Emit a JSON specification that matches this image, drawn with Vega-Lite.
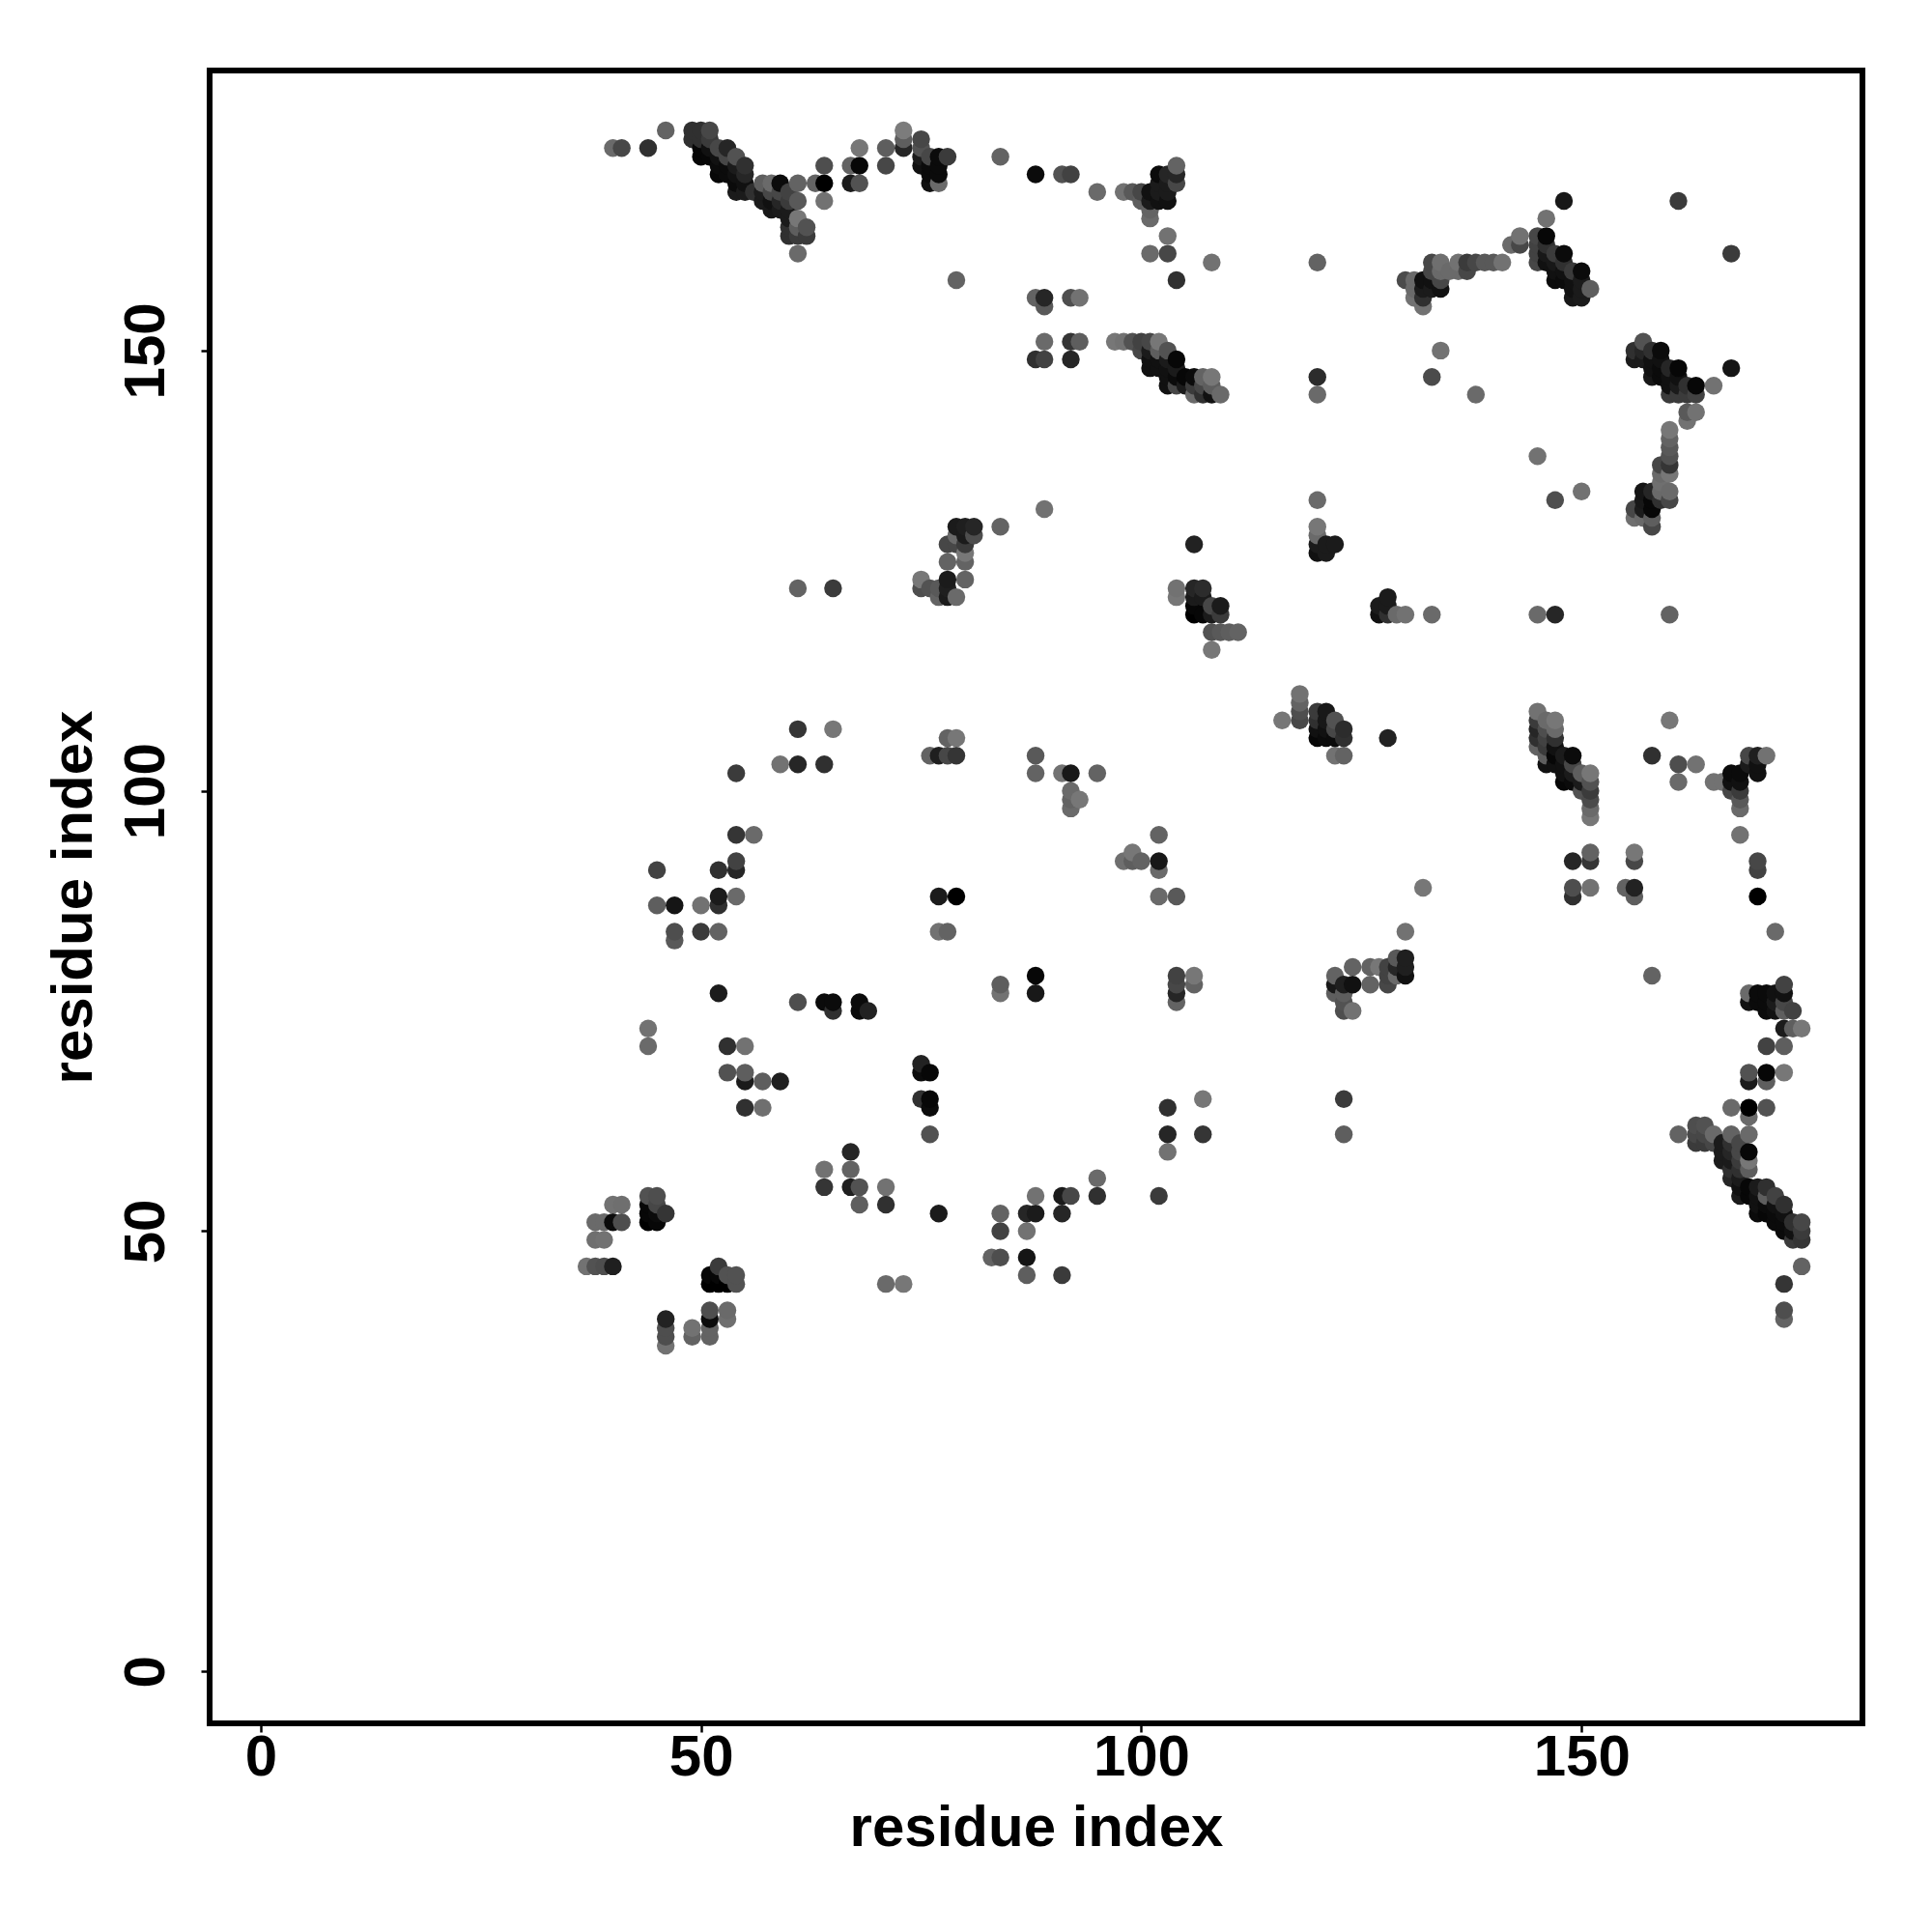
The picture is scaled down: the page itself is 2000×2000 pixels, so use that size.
{"$schema":"https://vega.github.io/schema/vega-lite/v6.json","autosize":"none","padding":{"left":217,"top":73,"right":72,"bottom":216},"width":1711,"height":1711,"background":"white","config":{"view":{"stroke":"black","strokeWidth":6,"fill":"white"}},"data":{"values":[
{"i":37,"j":46,"p":0.52},{"i":38,"j":46,"p":0.65},{"i":38,"j":49,"p":0.53},{"i":38,"j":51,"p":0.55},{"i":39,"j":46,"p":0.67},{"i":39,"j":49,"p":0.52},{"i":39,"j":51,"p":0.55},{"i":40,"j":46,"p":0.88},{"i":40,"j":51,"p":0.97},{"i":40,"j":53,"p":0.52},{"i":40,"j":173,"p":0.55},{"i":41,"j":51,"p":0.67},{"i":41,"j":53,"p":0.53},{"i":41,"j":173,"p":0.7},
{"i":44,"j":51,"p":1},{"i":44,"j":52,"p":0.98},{"i":44,"j":53,"p":0.98},{"i":44,"j":54,"p":0.65},{"i":44,"j":71,"p":0.55},{"i":44,"j":73,"p":0.52},{"i":44,"j":173,"p":0.8},{"i":45,"j":51,"p":0.98},{"i":45,"j":52,"p":0.97},{"i":45,"j":53,"p":0.7},{"i":45,"j":54,"p":0.67},{"i":45,"j":87,"p":0.6},{"i":45,"j":91,"p":0.72},{"i":46,"j":37,"p":0.52},{"i":46,"j":38,"p":0.67},{"i":46,"j":39,"p":0.67},{"i":46,"j":40,"p":0.87},{"i":46,"j":52,"p":0.78},{"i":46,"j":175,"p":0.58},{"i":47,"j":83,"p":0.62},{"i":47,"j":84,"p":0.67},{"i":47,"j":87,"p":0.93},
{"i":49,"j":38,"p":0.58},{"i":49,"j":39,"p":0.52},{"i":49,"j":174,"p":0.8},{"i":49,"j":175,"p":0.8},{"i":50,"j":84,"p":0.75},{"i":50,"j":87,"p":0.52},{"i":50,"j":172,"p":0.98},{"i":50,"j":173,"p":0.98},{"i":50,"j":174,"p":0.8},{"i":50,"j":175,"p":0.8},{"i":51,"j":38,"p":0.58},{"i":51,"j":39,"p":0.58},{"i":51,"j":40,"p":0.97},{"i":51,"j":41,"p":0.67},{"i":51,"j":44,"p":1},{"i":51,"j":45,"p":0.98},{"i":51,"j":172,"p":0.98},{"i":51,"j":173,"p":0.95},{"i":51,"j":174,"p":0.75},{"i":51,"j":175,"p":0.7},
{"i":52,"j":44,"p":1},{"i":52,"j":45,"p":0.98},{"i":52,"j":46,"p":0.75},{"i":52,"j":77,"p":0.9},{"i":52,"j":84,"p":0.58},{"i":52,"j":87,"p":0.8},{"i":52,"j":88,"p":0.9},{"i":52,"j":91,"p":0.8},{"i":52,"j":170,"p":0.98},{"i":52,"j":171,"p":0.97},{"i":52,"j":172,"p":0.95},{"i":52,"j":173,"p":0.7},{"i":53,"j":40,"p":0.53},{"i":53,"j":41,"p":0.55},{"i":53,"j":44,"p":1},{"i":53,"j":45,"p":0.65},{"i":53,"j":68,"p":0.65},{"i":53,"j":71,"p":0.8},{"i":53,"j":170,"p":0.97},{"i":53,"j":171,"p":0.97},{"i":53,"j":172,"p":0.7},{"i":53,"j":173,"p":0.85},
{"i":54,"j":44,"p":0.65},{"i":54,"j":45,"p":0.65},{"i":54,"j":88,"p":0.55},{"i":54,"j":91,"p":0.85},{"i":54,"j":92,"p":0.72},{"i":54,"j":95,"p":0.78},{"i":54,"j":102,"p":0.75},{"i":54,"j":168,"p":0.9},{"i":54,"j":169,"p":0.97},{"i":54,"j":170,"p":0.95},{"i":54,"j":171,"p":0.9},{"i":54,"j":172,"p":0.65},{"i":55,"j":64,"p":0.8},{"i":55,"j":67,"p":0.9},{"i":55,"j":68,"p":0.6},{"i":55,"j":71,"p":0.52},{"i":55,"j":168,"p":0.9},{"i":55,"j":169,"p":0.95},{"i":55,"j":170,"p":0.85},{"i":55,"j":171,"p":0.8},{"i":56,"j":95,"p":0.55},{"i":56,"j":168,"p":0.8},
{"i":57,"j":64,"p":0.53},{"i":57,"j":67,"p":0.6},{"i":57,"j":167,"p":0.9},{"i":57,"j":168,"p":0.9},{"i":57,"j":169,"p":0.6},{"i":58,"j":166,"p":0.92},{"i":58,"j":167,"p":0.95},{"i":58,"j":168,"p":0.7},{"i":58,"j":169,"p":0.55},{"i":59,"j":67,"p":0.88},{"i":59,"j":103,"p":0.52},{"i":59,"j":166,"p":0.9},{"i":59,"j":167,"p":0.85},{"i":59,"j":168,"p":0.7},{"i":59,"j":169,"p":0.97},{"i":60,"j":163,"p":0.8},{"i":60,"j":164,"p":0.8},{"i":60,"j":165,"p":0.9},{"i":60,"j":166,"p":0.9},{"i":60,"j":167,"p":0.75},{"i":60,"j":168,"p":0.72},
{"i":61,"j":76,"p":0.67},{"i":61,"j":103,"p":0.85},{"i":61,"j":107,"p":0.78},{"i":61,"j":123,"p":0.58},{"i":61,"j":161,"p":0.55},{"i":61,"j":163,"p":0.75},{"i":61,"j":164,"p":0.6},{"i":61,"j":165,"p":0.5},{"i":61,"j":167,"p":0.62},{"i":61,"j":169,"p":0.58},{"i":62,"j":163,"p":0.75},{"i":62,"j":164,"p":0.65},{"i":63,"j":169,"p":0.58},{"i":64,"j":55,"p":0.78},{"i":64,"j":57,"p":0.52},{"i":64,"j":76,"p":0.97},{"i":64,"j":103,"p":0.8},{"i":64,"j":167,"p":0.52},{"i":64,"j":169,"p":1},{"i":64,"j":171,"p":0.67},{"i":65,"j":75,"p":0.8},{"i":65,"j":76,"p":0.97},{"i":65,"j":107,"p":0.5},{"i":65,"j":123,"p":0.75},
{"i":67,"j":55,"p":0.88},{"i":67,"j":57,"p":0.58},{"i":67,"j":59,"p":0.85},{"i":67,"j":169,"p":0.9},{"i":67,"j":171,"p":0.58},{"i":68,"j":53,"p":0.6},{"i":68,"j":55,"p":0.65},{"i":68,"j":75,"p":0.97},{"i":68,"j":76,"p":0.97},{"i":68,"j":169,"p":0.65},{"i":68,"j":171,"p":0.98},{"i":68,"j":173,"p":0.5},{"i":69,"j":75,"p":0.87},{"i":71,"j":44,"p":0.55},{"i":71,"j":53,"p":0.8},{"i":71,"j":55,"p":0.52},{"i":71,"j":171,"p":0.7},{"i":71,"j":173,"p":0.6},{"i":73,"j":44,"p":0.5},{"i":73,"j":173,"p":0.85},{"i":73,"j":174,"p":0.6},{"i":73,"j":175,"p":0.48},
{"i":75,"j":65,"p":0.8},{"i":75,"j":68,"p":0.97},{"i":75,"j":69,"p":0.87},{"i":75,"j":123,"p":0.67},{"i":75,"j":124,"p":0.5},{"i":75,"j":171,"p":0.95},{"i":75,"j":172,"p":0.9},{"i":75,"j":173,"p":0.65},{"i":75,"j":174,"p":0.7},{"i":76,"j":61,"p":0.65},{"i":76,"j":64,"p":0.97},{"i":76,"j":65,"p":0.98},{"i":76,"j":68,"p":0.98},{"i":76,"j":104,"p":0.58},{"i":76,"j":123,"p":0.65},{"i":76,"j":169,"p":0.95},{"i":76,"j":170,"p":0.97},{"i":76,"j":171,"p":0.97},{"i":76,"j":172,"p":0.7},
{"i":77,"j":52,"p":0.9},{"i":77,"j":84,"p":0.52},{"i":77,"j":88,"p":0.9},{"i":77,"j":104,"p":0.88},{"i":77,"j":122,"p":0.58},{"i":77,"j":123,"p":0.62},{"i":77,"j":169,"p":0.55},{"i":77,"j":170,"p":0.97},{"i":77,"j":171,"p":0.97},{"i":77,"j":172,"p":0.97},{"i":78,"j":84,"p":0.58},{"i":78,"j":104,"p":0.7},{"i":78,"j":106,"p":0.58},{"i":78,"j":122,"p":0.9},{"i":78,"j":123,"p":0.88},{"i":78,"j":124,"p":0.9},{"i":78,"j":126,"p":0.58},{"i":78,"j":128,"p":0.7},{"i":78,"j":172,"p":0.75},
{"i":79,"j":88,"p":1},{"i":79,"j":104,"p":0.78},{"i":79,"j":106,"p":0.5},{"i":79,"j":122,"p":0.55},{"i":79,"j":128,"p":0.7},{"i":79,"j":129,"p":0.55},{"i":79,"j":130,"p":0.9},{"i":79,"j":158,"p":0.58},{"i":80,"j":124,"p":0.58},{"i":80,"j":126,"p":0.58},{"i":80,"j":127,"p":0.5},{"i":80,"j":128,"p":0.75},{"i":80,"j":129,"p":0.9},{"i":80,"j":130,"p":0.88},{"i":81,"j":129,"p":0.67},{"i":81,"j":130,"p":0.85},{"i":83,"j":47,"p":0.58},{"i":84,"j":47,"p":0.67},{"i":84,"j":50,"p":0.72},{"i":84,"j":52,"p":0.58},{"i":84,"j":77,"p":0.52},{"i":84,"j":78,"p":0.6},{"i":84,"j":130,"p":0.58},{"i":84,"j":172,"p":0.58},
{"i":87,"j":45,"p":0.6},{"i":87,"j":47,"p":0.93},{"i":87,"j":50,"p":0.52},{"i":87,"j":52,"p":0.85},{"i":88,"j":52,"p":0.9},{"i":88,"j":54,"p":0.52},{"i":88,"j":77,"p":0.92},{"i":88,"j":79,"p":0.98},{"i":88,"j":102,"p":0.58},{"i":88,"j":104,"p":0.62},{"i":88,"j":149,"p":0.8},{"i":88,"j":156,"p":0.58},{"i":88,"j":170,"p":0.97},{"i":89,"j":132,"p":0.52},{"i":89,"j":149,"p":0.72},{"i":89,"j":151,"p":0.55},{"i":89,"j":155,"p":0.62},{"i":89,"j":156,"p":0.85},
{"i":91,"j":45,"p":0.75},{"i":91,"j":52,"p":0.85},{"i":91,"j":54,"p":0.9},{"i":91,"j":102,"p":0.52},{"i":91,"j":170,"p":0.65},{"i":92,"j":54,"p":0.7},{"i":92,"j":98,"p":0.55},{"i":92,"j":99,"p":0.58},{"i":92,"j":100,"p":0.55},{"i":92,"j":102,"p":0.92},{"i":92,"j":149,"p":0.85},{"i":92,"j":151,"p":0.78},{"i":92,"j":156,"p":0.67},{"i":92,"j":170,"p":0.72},{"i":93,"j":99,"p":0.5},{"i":93,"j":151,"p":0.6},{"i":93,"j":156,"p":0.52},{"i":95,"j":54,"p":0.8},{"i":95,"j":56,"p":0.55},{"i":95,"j":102,"p":0.58},{"i":95,"j":168,"p":0.55},
{"i":97,"j":151,"p":0.5},{"i":98,"j":92,"p":0.53},{"i":98,"j":151,"p":0.52},{"i":98,"j":168,"p":0.52},{"i":99,"j":92,"p":0.6},{"i":99,"j":93,"p":0.5},{"i":99,"j":151,"p":0.65},{"i":99,"j":168,"p":0.62},{"i":100,"j":92,"p":0.58},{"i":100,"j":150,"p":0.7},{"i":100,"j":151,"p":0.72},{"i":100,"j":167,"p":0.6},{"i":100,"j":168,"p":0.7},
{"i":101,"j":148,"p":0.95},{"i":101,"j":149,"p":0.95},{"i":101,"j":150,"p":0.9},{"i":101,"j":151,"p":0.7},{"i":101,"j":161,"p":0.55},{"i":101,"j":165,"p":0.55},{"i":101,"j":166,"p":0.58},{"i":101,"j":167,"p":0.9},{"i":101,"j":168,"p":0.95},{"i":102,"j":54,"p":0.75},{"i":102,"j":88,"p":0.55},{"i":102,"j":91,"p":0.55},{"i":102,"j":92,"p":0.92},{"i":102,"j":95,"p":0.58},{"i":102,"j":148,"p":0.95},{"i":102,"j":149,"p":0.95},{"i":102,"j":150,"p":0.6},{"i":102,"j":151,"p":0.5},{"i":102,"j":167,"p":0.95},{"i":102,"j":168,"p":0.9},{"i":102,"j":169,"p":0.9},{"i":102,"j":170,"p":0.97},
{"i":103,"j":59,"p":0.52},{"i":103,"j":61,"p":0.85},{"i":103,"j":64,"p":0.8},{"i":103,"j":146,"p":0.95},{"i":103,"j":147,"p":0.95},{"i":103,"j":148,"p":0.95},{"i":103,"j":149,"p":0.9},{"i":103,"j":150,"p":0.65},{"i":103,"j":161,"p":0.7},{"i":103,"j":163,"p":0.52},{"i":103,"j":167,"p":0.95},{"i":103,"j":168,"p":0.9},{"i":103,"j":169,"p":0.9},{"i":103,"j":170,"p":0.85},
{"i":104,"j":76,"p":0.58},{"i":104,"j":77,"p":0.85},{"i":104,"j":78,"p":0.7},{"i":104,"j":79,"p":0.72},{"i":104,"j":88,"p":0.62},{"i":104,"j":122,"p":0.5},{"i":104,"j":123,"p":0.52},{"i":104,"j":146,"p":0.7},{"i":104,"j":147,"p":0.97},{"i":104,"j":148,"p":0.9},{"i":104,"j":149,"p":0.98},{"i":104,"j":158,"p":0.8},{"i":104,"j":169,"p":0.7},{"i":104,"j":170,"p":0.85},{"i":104,"j":171,"p":0.58},{"i":105,"j":146,"p":0.9},{"i":105,"j":147,"p":0.98},
{"i":106,"j":78,"p":0.58},{"i":106,"j":79,"p":0.5},{"i":106,"j":120,"p":1},{"i":106,"j":121,"p":0.98},{"i":106,"j":122,"p":0.9},{"i":106,"j":123,"p":0.85},{"i":106,"j":128,"p":0.87},{"i":106,"j":145,"p":0.55},{"i":106,"j":146,"p":0.75},{"i":106,"j":147,"p":0.97},{"i":107,"j":61,"p":0.78},{"i":107,"j":65,"p":0.5},{"i":107,"j":120,"p":0.98},{"i":107,"j":122,"p":0.9},{"i":107,"j":123,"p":0.82},{"i":107,"j":145,"p":0.8},{"i":107,"j":146,"p":0.7},{"i":107,"j":147,"p":0.58},
{"i":108,"j":116,"p":0.5},{"i":108,"j":118,"p":0.65},{"i":108,"j":120,"p":0.9},{"i":108,"j":121,"p":0.7},{"i":108,"j":145,"p":0.95},{"i":108,"j":146,"p":0.6},{"i":108,"j":147,"p":0.5},{"i":108,"j":160,"p":0.52},{"i":109,"j":118,"p":0.62},{"i":109,"j":120,"p":0.75},{"i":109,"j":121,"p":0.9},{"i":109,"j":145,"p":0.55},{"i":110,"j":118,"p":0.6},{"i":111,"j":118,"p":0.58},{"i":116,"j":108,"p":0.5},{"i":118,"j":108,"p":0.7},{"i":118,"j":109,"p":0.67},{"i":118,"j":110,"p":0.58},{"i":118,"j":111,"p":0.52},
{"i":120,"j":106,"p":0.98},{"i":120,"j":107,"p":0.95},{"i":120,"j":108,"p":0.8},{"i":120,"j":109,"p":0.75},{"i":120,"j":127,"p":0.95},{"i":120,"j":128,"p":0.9},{"i":120,"j":129,"p":0.55},{"i":120,"j":130,"p":0.5},{"i":120,"j":133,"p":0.55},{"i":120,"j":145,"p":0.55},{"i":120,"j":147,"p":0.82},{"i":120,"j":160,"p":0.58},{"i":121,"j":106,"p":0.97},{"i":121,"j":107,"p":0.95},{"i":121,"j":108,"p":0.92},{"i":121,"j":109,"p":0.92},{"i":121,"j":127,"p":0.9},{"i":121,"j":128,"p":0.9},
{"i":122,"j":77,"p":0.6},{"i":122,"j":78,"p":0.92},{"i":122,"j":79,"p":0.58},{"i":122,"j":104,"p":0.52},{"i":122,"j":106,"p":0.97},{"i":122,"j":107,"p":0.7},{"i":122,"j":108,"p":0.65},{"i":122,"j":128,"p":0.9},{"i":123,"j":61,"p":0.6},{"i":123,"j":65,"p":0.75},{"i":123,"j":75,"p":0.67},{"i":123,"j":76,"p":0.65},{"i":123,"j":77,"p":0.6},{"i":123,"j":78,"p":0.88},{"i":123,"j":104,"p":0.58},{"i":123,"j":106,"p":0.8},{"i":123,"j":107,"p":0.82},{"i":124,"j":75,"p":0.52},{"i":124,"j":78,"p":0.95},{"i":124,"j":80,"p":0.58},
{"i":126,"j":78,"p":0.58},{"i":126,"j":80,"p":0.58},{"i":127,"j":80,"p":0.5},{"i":127,"j":120,"p":0.95},{"i":127,"j":121,"p":0.9},{"i":128,"j":78,"p":0.7},{"i":128,"j":79,"p":0.72},{"i":128,"j":80,"p":0.72},{"i":128,"j":106,"p":0.87},{"i":128,"j":120,"p":0.8},{"i":128,"j":121,"p":0.9},{"i":128,"j":122,"p":0.9},{"i":129,"j":79,"p":0.55},{"i":129,"j":80,"p":0.85},{"i":129,"j":81,"p":0.62},{"i":129,"j":120,"p":0.55},{"i":130,"j":79,"p":0.95},{"i":130,"j":80,"p":0.88},{"i":130,"j":81,"p":0.88},{"i":130,"j":84,"p":0.52},{"i":130,"j":120,"p":0.52},{"i":130,"j":158,"p":0.68},
{"i":131,"j":156,"p":0.52},{"i":131,"j":157,"p":0.55},{"i":131,"j":158,"p":0.55},{"i":132,"j":89,"p":0.5},{"i":132,"j":155,"p":0.52},{"i":132,"j":156,"p":0.8},{"i":132,"j":157,"p":0.9},{"i":132,"j":158,"p":0.95},{"i":133,"j":120,"p":0.55},{"i":133,"j":147,"p":0.68},{"i":133,"j":157,"p":0.9},{"i":133,"j":158,"p":0.95},{"i":133,"j":159,"p":0.7},{"i":133,"j":160,"p":0.7},{"i":134,"j":150,"p":0.52},{"i":134,"j":157,"p":0.95},{"i":134,"j":158,"p":0.7},{"i":134,"j":159,"p":0.55},{"i":134,"j":160,"p":0.53},{"i":135,"j":159,"p":0.55},{"i":136,"j":159,"p":0.55},{"i":136,"j":160,"p":0.52},{"i":137,"j":159,"p":0.7},{"i":137,"j":160,"p":0.75},{"i":138,"j":145,"p":0.55},{"i":138,"j":160,"p":0.7},{"i":139,"j":160,"p":0.62},{"i":140,"j":160,"p":0.62},{"i":141,"j":160,"p":0.52},{"i":142,"j":162,"p":0.55},{"i":143,"j":162,"p":0.7},{"i":143,"j":163,"p":0.52},
{"i":145,"j":105,"p":0.58},{"i":145,"j":106,"p":0.8},{"i":145,"j":107,"p":0.85},{"i":145,"j":108,"p":0.75},{"i":145,"j":109,"p":0.52},{"i":145,"j":120,"p":0.55},{"i":145,"j":138,"p":0.52},{"i":145,"j":160,"p":0.7},{"i":145,"j":161,"p":0.72},{"i":145,"j":162,"p":0.72},{"i":145,"j":163,"p":0.7},{"i":146,"j":103,"p":0.95},{"i":146,"j":104,"p":0.6},{"i":146,"j":105,"p":0.75},{"i":146,"j":106,"p":0.72},{"i":146,"j":107,"p":0.67},{"i":146,"j":108,"p":0.55},{"i":146,"j":160,"p":0.95},{"i":146,"j":161,"p":0.92},{"i":146,"j":162,"p":0.8},{"i":146,"j":163,"p":0.98},{"i":146,"j":165,"p":0.52},
{"i":147,"j":103,"p":0.95},{"i":147,"j":104,"p":0.98},{"i":147,"j":105,"p":0.95},{"i":147,"j":106,"p":0.8},{"i":147,"j":107,"p":0.55},{"i":147,"j":108,"p":0.5},{"i":147,"j":120,"p":0.85},{"i":147,"j":133,"p":0.67},{"i":147,"j":158,"p":0.97},{"i":147,"j":159,"p":0.95},{"i":147,"j":160,"p":0.92},{"i":147,"j":161,"p":0.75},{"i":148,"j":101,"p":0.98},{"i":148,"j":102,"p":0.95},{"i":148,"j":103,"p":0.95},{"i":148,"j":104,"p":0.9},{"i":148,"j":158,"p":0.97},{"i":148,"j":159,"p":0.95},{"i":148,"j":160,"p":0.8},{"i":148,"j":161,"p":0.97},{"i":148,"j":167,"p":0.92},
{"i":149,"j":88,"p":0.8},{"i":149,"j":89,"p":0.67},{"i":149,"j":92,"p":0.85},{"i":149,"j":101,"p":0.97},{"i":149,"j":102,"p":0.9},{"i":149,"j":103,"p":0.7},{"i":149,"j":104,"p":0.97},{"i":149,"j":156,"p":0.92},{"i":149,"j":157,"p":0.95},{"i":149,"j":158,"p":0.95},{"i":149,"j":159,"p":0.75},{"i":150,"j":100,"p":0.65},{"i":150,"j":101,"p":0.9},{"i":150,"j":102,"p":0.6},{"i":150,"j":134,"p":0.52},{"i":150,"j":156,"p":0.9},{"i":150,"j":157,"p":0.9},{"i":150,"j":158,"p":0.9},{"i":150,"j":159,"p":0.97},
{"i":151,"j":89,"p":0.52},{"i":151,"j":92,"p":0.78},{"i":151,"j":93,"p":0.58},{"i":151,"j":97,"p":0.5},{"i":151,"j":98,"p":0.55},{"i":151,"j":99,"p":0.68},{"i":151,"j":100,"p":0.75},{"i":151,"j":101,"p":0.65},{"i":151,"j":102,"p":0.5},{"i":151,"j":157,"p":0.6},{"i":155,"j":89,"p":0.58},{"i":156,"j":88,"p":0.6},{"i":156,"j":89,"p":0.87},{"i":156,"j":92,"p":0.7},{"i":156,"j":93,"p":0.5},{"i":156,"j":131,"p":0.53},{"i":156,"j":132,"p":0.7},{"i":156,"j":149,"p":0.9},{"i":156,"j":150,"p":0.8},{"i":157,"j":131,"p":0.55},{"i":157,"j":132,"p":0.9},{"i":157,"j":133,"p":0.92},{"i":157,"j":134,"p":0.93},{"i":157,"j":149,"p":0.9},{"i":157,"j":150,"p":0.85},{"i":157,"j":151,"p":0.65},
{"i":158,"j":79,"p":0.58},{"i":158,"j":104,"p":0.8},{"i":158,"j":130,"p":0.7},{"i":158,"j":131,"p":0.6},{"i":158,"j":132,"p":0.98},{"i":158,"j":133,"p":0.98},{"i":158,"j":134,"p":0.85},{"i":158,"j":147,"p":0.92},{"i":158,"j":148,"p":0.95},{"i":158,"j":149,"p":0.95},{"i":158,"j":150,"p":0.8},{"i":159,"j":133,"p":0.8},{"i":159,"j":134,"p":0.55},{"i":159,"j":135,"p":0.53},{"i":159,"j":136,"p":0.55},{"i":159,"j":137,"p":0.7},{"i":159,"j":147,"p":0.97},{"i":159,"j":148,"p":0.97},{"i":159,"j":149,"p":0.95},{"i":159,"j":150,"p":0.97},
{"i":160,"j":108,"p":0.5},{"i":160,"j":120,"p":0.58},{"i":160,"j":133,"p":0.7},{"i":160,"j":134,"p":0.55},{"i":160,"j":136,"p":0.5},{"i":160,"j":137,"p":0.78},{"i":160,"j":138,"p":0.65},{"i":160,"j":139,"p":0.62},{"i":160,"j":140,"p":0.58},{"i":160,"j":141,"p":0.5},{"i":160,"j":145,"p":0.75},{"i":160,"j":146,"p":0.95},{"i":160,"j":147,"p":0.95},{"i":160,"j":148,"p":0.85},{"i":161,"j":61,"p":0.58},{"i":161,"j":101,"p":0.55},{"i":161,"j":103,"p":0.67},{"i":161,"j":145,"p":0.75},{"i":161,"j":146,"p":0.9},{"i":161,"j":147,"p":0.95},{"i":161,"j":148,"p":0.98},{"i":161,"j":167,"p":0.75},
{"i":162,"j":142,"p":0.52},{"i":162,"j":143,"p":0.62},{"i":162,"j":145,"p":0.75},{"i":162,"j":146,"p":0.8},{"i":163,"j":60,"p":0.75},{"i":163,"j":61,"p":0.7},{"i":163,"j":62,"p":0.67},{"i":163,"j":103,"p":0.52},{"i":163,"j":143,"p":0.52},{"i":163,"j":145,"p":0.72},{"i":163,"j":146,"p":0.98},{"i":164,"j":60,"p":0.75},{"i":164,"j":61,"p":0.7},{"i":164,"j":62,"p":0.65},{"i":165,"j":60,"p":0.7},{"i":165,"j":61,"p":0.55},{"i":165,"j":101,"p":0.52},{"i":165,"j":146,"p":0.52},{"i":166,"j":58,"p":0.9},{"i":166,"j":59,"p":0.9},{"i":166,"j":60,"p":0.9},{"i":166,"j":101,"p":0.52},
{"i":167,"j":56,"p":0.85},{"i":167,"j":57,"p":0.8},{"i":167,"j":58,"p":0.9},{"i":167,"j":59,"p":0.85},{"i":167,"j":60,"p":0.8},{"i":167,"j":61,"p":0.58},{"i":167,"j":64,"p":0.55},{"i":167,"j":100,"p":0.7},{"i":167,"j":101,"p":0.95},{"i":167,"j":102,"p":0.97},{"i":167,"j":148,"p":0.93},{"i":167,"j":161,"p":0.75},{"i":168,"j":54,"p":0.9},{"i":168,"j":55,"p":0.95},{"i":168,"j":56,"p":0.9},{"i":168,"j":57,"p":0.8},{"i":168,"j":58,"p":0.75},{"i":168,"j":59,"p":0.7},{"i":168,"j":60,"p":0.7},{"i":168,"j":95,"p":0.52},{"i":168,"j":98,"p":0.55},{"i":168,"j":99,"p":0.62},{"i":168,"j":100,"p":0.75},{"i":168,"j":101,"p":0.95},{"i":168,"j":102,"p":0.97},
{"i":169,"j":54,"p":0.98},{"i":169,"j":55,"p":0.98},{"i":169,"j":57,"p":0.6},{"i":169,"j":58,"p":0.5},{"i":169,"j":59,"p":0.98},{"i":169,"j":61,"p":0.55},{"i":169,"j":63,"p":0.55},{"i":169,"j":64,"p":1},{"i":169,"j":67,"p":0.9},{"i":169,"j":68,"p":0.65},{"i":169,"j":76,"p":0.95},{"i":169,"j":77,"p":0.55},{"i":169,"j":103,"p":0.9},{"i":169,"j":104,"p":0.7},
{"i":170,"j":52,"p":0.97},{"i":170,"j":53,"p":0.95},{"i":170,"j":54,"p":0.95},{"i":170,"j":55,"p":0.9},{"i":170,"j":76,"p":0.97},{"i":170,"j":77,"p":0.97},{"i":170,"j":88,"p":1},{"i":170,"j":91,"p":0.72},{"i":170,"j":92,"p":0.7},{"i":170,"j":102,"p":0.95},{"i":170,"j":103,"p":0.95},{"i":170,"j":104,"p":0.88},{"i":171,"j":52,"p":0.98},{"i":171,"j":53,"p":0.97},{"i":171,"j":54,"p":0.6},{"i":171,"j":55,"p":0.8},{"i":171,"j":64,"p":0.65},{"i":171,"j":67,"p":0.6},{"i":171,"j":68,"p":0.98},{"i":171,"j":71,"p":0.72},{"i":171,"j":75,"p":0.97},{"i":171,"j":76,"p":0.97},{"i":171,"j":77,"p":0.97},{"i":171,"j":104,"p":0.52},
{"i":172,"j":51,"p":0.97},{"i":172,"j":52,"p":0.97},{"i":172,"j":53,"p":0.95},{"i":172,"j":54,"p":0.72},{"i":172,"j":75,"p":0.95},{"i":172,"j":76,"p":0.9},{"i":172,"j":77,"p":0.95},{"i":172,"j":84,"p":0.55},{"i":173,"j":40,"p":0.58},{"i":173,"j":41,"p":0.67},{"i":173,"j":44,"p":0.78},{"i":173,"j":50,"p":0.97},{"i":173,"j":51,"p":0.97},{"i":173,"j":52,"p":0.95},{"i":173,"j":53,"p":0.8},{"i":173,"j":68,"p":0.5},{"i":173,"j":71,"p":0.6},{"i":173,"j":73,"p":0.9},{"i":173,"j":75,"p":0.6},{"i":173,"j":76,"p":0.7},{"i":173,"j":77,"p":0.95},{"i":173,"j":78,"p":0.72},
{"i":174,"j":49,"p":0.75},{"i":174,"j":50,"p":0.95},{"i":174,"j":51,"p":0.8},{"i":174,"j":73,"p":0.6},{"i":174,"j":75,"p":0.72},{"i":175,"j":46,"p":0.58},{"i":175,"j":49,"p":0.78},{"i":175,"j":50,"p":0.75},{"i":175,"j":51,"p":0.7},{"i":175,"j":73,"p":0.5}
]},"mark":{"type":"point","shape":"circle","filled":true,"size":340,"opacity":1},"encoding":{"x":{"field":"i","type":"quantitative","scale":{"domain":[-5.8,181.9],"nice":false,"zero":false},"axis":{"values":[0,50,100,150],"title":"residue index","grid":false,"domain":false,"tickColor":"black","tickWidth":2.5,"tickSize":9,"labelFont":"Liberation Sans","labelFontWeight":"bold","labelFontSize":60,"labelColor":"black","labelPadding":-3,"labelFlush":false,"labelOverlap":false,"titleFont":"Liberation Sans","titleFontWeight":"bold","titleFontSize":60,"titleColor":"black","titlePadding":14}},"y":{"field":"j","type":"quantitative","scale":{"domain":[-5.9,181.8],"nice":false,"zero":false},"axis":{"values":[0,50,100,150],"title":"residue index","grid":false,"domain":false,"tickColor":"black","tickWidth":2.5,"tickSize":9,"labelFont":"Liberation Sans","labelFontWeight":"bold","labelFontSize":60,"labelColor":"black","labelAngle":270,"labelAlign":"center","labelBaseline":"bottom","labelPadding":26,"labelFlush":false,"labelOverlap":false,"titleFont":"Liberation Sans","titleFontWeight":"bold","titleFontSize":60,"titleColor":"black","titlePadding":14}},"color":{"field":"p","type":"quantitative","legend":null,"scale":{"domain":[0,1],"range":["#ffffff","#000000"]}}}}
